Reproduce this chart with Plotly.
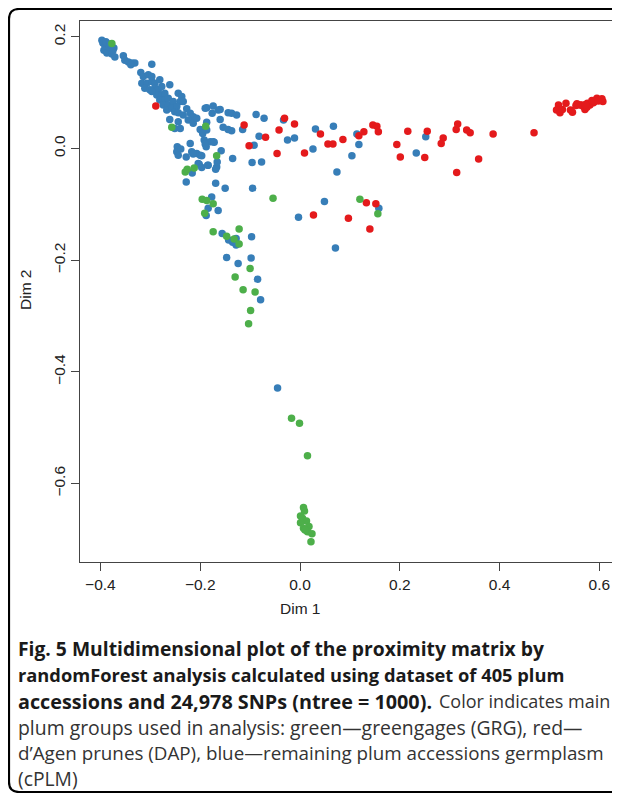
import plotly.graph_objects as go

# ---- data ----
blue_x = [-0.397, -0.391, -0.385, -0.379, -0.393, -0.387, -0.377, -0.383, -0.373, -0.395, -0.389, -0.381, -0.375,
          -0.371, -0.354, -0.351, -0.344, -0.337, -0.331, -0.339, -0.297, -0.319, -0.314, -0.304, -0.297,
          -0.317, -0.307, -0.297, -0.291, -0.281, -0.311, -0.301, -0.291, -0.284, -0.277, -0.261, -0.287,
          -0.277, -0.271, -0.281, -0.271, -0.264, -0.274, -0.264, -0.254, -0.244, -0.237, -0.240, -0.234,
          -0.267, -0.257, -0.247, -0.251, -0.297, -0.227, -0.220, -0.244, -0.261, -0.244, -0.234, -0.214,
          -0.224, -0.214, -0.207, -0.190, -0.251, -0.240, -0.200, -0.187, -0.174, -0.164, -0.144, -0.137,
          -0.176, -0.088, -0.160, -0.154, -0.144, -0.137, -0.195, -0.192, -0.188, -0.174, -0.220, -0.217,
          -0.207, -0.200, -0.246, -0.247, -0.244, -0.228, -0.204, -0.184, -0.167, -0.135, -0.096, -0.160,
          -0.127, -0.072, -0.033, -0.187, -0.115, -0.187, -0.082, -0.025, -0.011, -0.092, 0.031, 0.067,
          0.114, 0.118, 0.026, 0.104, -0.180, -0.190, -0.172, -0.158, -0.239, -0.214, -0.197, -0.166,
          -0.202, -0.197, -0.185, -0.169, -0.216, -0.077, 0.074, -0.228, -0.169, -0.150, -0.095, 0.049,
          0.158, -0.003, 0.071, -0.177, -0.184, -0.164, -0.188, -0.156, -0.143, -0.135, -0.128, -0.128,
          -0.097, -0.147, -0.124, -0.098, -0.085, -0.079, -0.045, 0.252, 0.233]
blue_y = [0.194, 0.185, 0.180, 0.176, 0.176, 0.171, 0.169, 0.182, 0.180, 0.189, 0.191, 0.187, 0.175,
          0.164, 0.166, 0.158, 0.155, 0.153, 0.153, 0.150, 0.151, 0.136, 0.129, 0.132, 0.129,
          0.117, 0.117, 0.120, 0.117, 0.123, 0.108, 0.105, 0.108, 0.105, 0.111, 0.114, 0.096,
          0.096, 0.099, 0.087, 0.087, 0.090, 0.078, 0.078, 0.084, 0.099, 0.093, 0.084, 0.084,
          0.069, 0.072, 0.075, 0.066, 0.102, 0.071, 0.063, 0.064, 0.052, 0.048, 0.060, 0.057,
          0.051, 0.045, 0.054, 0.072, 0.036, 0.036, 0.034, 0.073, 0.076, 0.069, 0.064, 0.063,
          0.063, 0.061, 0.052, 0.038, 0.034, 0.032, 0.027, 0.015, 0.003, 0.012, 0.009, -0.006,
          -0.009, -0.012, 0.003, -0.006, -0.012, -0.015, -0.027, -0.030, -0.033, -0.018, -0.025, 0.070,
          0.060, 0.054, 0.051, 0.047, 0.034, 0.033, 0.022, 0.015, 0.019, 0.006, 0.035, 0.040,
          0.026, 0.007, -0.001, -0.013, 0.012, 0.008, 0.011, -0.004, -0.001, -0.010, -0.013, -0.024,
          -0.028, -0.034, -0.030, -0.037, -0.044, -0.024, -0.042, -0.060, -0.062, -0.071, -0.071, -0.095,
          -0.107, -0.123, -0.178, -0.087, -0.107, -0.111, -0.120, -0.152, -0.164, -0.168, -0.173, -0.161,
          -0.158, -0.195, -0.206, -0.196, -0.234, -0.271, -0.429, 0.021, -0.008]

red_x = [-0.289, -0.112, -0.102, -0.031, -0.011, -0.069, -0.042, 0.041, 0.056, 0.066, 0.086, 0.118,
         0.128, 0.146, 0.154, 0.157, 0.194, 0.201, 0.009, -0.046, 0.133, 0.152, 0.027, 0.097, 0.140,
         0.216, 0.255, 0.250, 0.287, 0.283, 0.313, 0.316, 0.334, 0.341, 0.387, 0.358, 0.314, 0.469,
         0.518, 0.514, 0.521, 0.526, 0.533, 0.542, 0.546, 0.555, 0.561, 0.568, 0.571, 0.576, 0.581,
         0.588, 0.595, 0.601, 0.607, 0.575, 0.564, 0.585, 0.590, 0.598, 0.572, 0.553, 0.605]
red_y = [0.076, 0.042, 0.005, 0.054, 0.044, 0.020, 0.033, 0.026, 0.008, 0.008, 0.016, 0.023,
         0.030, 0.042, 0.040, 0.030, 0.007, -0.015, -0.008, -0.009, -0.097, -0.099, -0.119, -0.125, -0.144,
         0.031, 0.031, -0.016, 0.019, 0.009, 0.034, 0.044, 0.033, 0.028, 0.026, -0.019, -0.043, 0.028,
         0.078, 0.069, 0.064, 0.070, 0.081, 0.069, 0.065, 0.080, 0.078, 0.075, 0.070, 0.081, 0.078,
         0.082, 0.090, 0.087, 0.084, 0.074, 0.078, 0.086, 0.084, 0.085, 0.079, 0.077, 0.089]

green_x = [-0.377, -0.189, -0.257, -0.167, -0.230, -0.226, -0.212, -0.054, 0.120, 0.156, -0.196, -0.187,
           -0.174, -0.191, -0.174, -0.147, -0.122, -0.132, -0.122, -0.100, -0.130, -0.114, -0.090, -0.099,
           -0.103, -0.017, -0.001, 0.015, 0.007, 0.009, 0.001, 0.005, 0.013, 0.001, 0.007, 0.018, 0.015,
           0.024, 0.022, 0.010]
green_y = [0.188, 0.040, 0.038, -0.013, -0.042, -0.037, -0.035, -0.089, -0.091, -0.117, -0.091, -0.093,
           -0.099, -0.116, -0.149, -0.157, -0.144, -0.162, -0.171, -0.215, -0.230, -0.253, -0.257, -0.290,
           -0.314, -0.483, -0.492, -0.550, -0.643, -0.649, -0.658, -0.662, -0.667, -0.670, -0.680, -0.677,
           -0.686, -0.690, -0.704, -0.683]

x_ticks = [-0.4, -0.2, 0.0, 0.2, 0.4, 0.6]
x_labels = ["\u22120.4", "\u22120.2", "0.0", "0.2", "0.4", "0.6"]
y_ticks = [-0.6, -0.4, -0.2, 0.0, 0.2]
y_labels = ["\u22120.6", "\u22120.4", "\u22120.2", "0.0", "0.2"]

# caption pieces: (text, bold?)
caption_pieces = [
    ("Fig. 5 Multidimensional plot of the proximity matrix by", True),
    ("randomForest analysis calculated using dataset of 405 plum", True),
    ("accessions and 24,978 SNPs (ntree = 1000).", True),
    ("Color indicates main", False),
    ("plum groups used in analysis: green\u2014greengages (GRG), red\u2014", False),
    ("d\u2019Agen prunes (DAP), blue\u2014remaining plum accessions germplasm", False),
    ("(cPLM)", False),
]

# ---- layout geometry ----
# The page body has an 8px margin; the figure is kept small enough that the
# page never overflows, and every reference-pixel position is shifted by OFF.
OFF = 8
W, H = 620 - 2 * OFF, 801 - 2 * OFF
BOX_L, BOX_T, BOX_B, BOX_R = 80, 21, 562, 612   # plot box in reference pixels
ML, MT = BOX_L - OFF, BOX_T - OFF
MB = H - (BOX_B - OFF)
MR = W - (BOX_R - OFF)
PW, PH = W - ML - MR, H - MT - MB


def px(xp):
    return (xp - OFF - ML) / PW


def py(yp):
    return (H - MB - (yp - OFF)) / PH


COL_BLUE = "#377EB8"
COL_RED = "#E41A1C"
COL_GREEN = "#4DAF4A"
MS = 7.5

fig = go.Figure()
fig.add_trace(go.Scatter(x=blue_x, y=blue_y, mode="markers",
                         marker=dict(color=COL_BLUE, size=MS, line=dict(width=0)), showlegend=False))
fig.add_trace(go.Scatter(x=red_x, y=red_y, mode="markers",
                         marker=dict(color=COL_RED, size=MS, line=dict(width=0)), showlegend=False))
fig.add_trace(go.Scatter(x=green_x, y=green_y, mode="markers",
                         marker=dict(color=COL_GREEN, size=MS, line=dict(width=0)), showlegend=False))

tick_font = dict(family="Liberation Sans, Arial, sans-serif", size=15.5, color="#222")

# axis scale: 499 px per x unit (0.0 at x=300), 558.5 px per y unit (0.0 at y=148.5)
fig.update_xaxes(range=[(BOX_L - 300) / 499, (BOX_R - 300) / 499], tickvals=x_ticks, ticktext=x_labels,
                 ticks="outside", ticklen=8, tickwidth=1, tickcolor="#444",
                 showline=True, linecolor="#444", linewidth=1, mirror="allticks",
                 showgrid=False, zeroline=False, tickfont=tick_font)
fig.update_yaxes(range=[(148.5 - BOX_B) / 558.5, (148.5 - BOX_T) / 558.5], tickvals=y_ticks, ticktext=y_labels,
                 ticks="outside", ticklen=8, tickwidth=1, tickcolor="#444", tickangle=-90,
                 showline=True, linecolor="#444", linewidth=1, mirror=False,
                 showgrid=False, zeroline=False, tickfont=tick_font)
fig.update_xaxes(mirror=True)

axis_font = dict(family="Liberation Sans, Arial, sans-serif", size=15.5, color="#222")
annotations = [
    dict(text="Dim 1", xref="paper", yref="paper", x=px(300), y=py(608), xanchor="center", yanchor="middle",
         showarrow=False, font=axis_font),
    dict(text="Dim 2", xref="paper", yref="paper", x=px(25), y=py(290), xanchor="center", yanchor="middle",
         textangle=-90, showarrow=False, font=axis_font),
]
# placement of each caption piece: (left x, centre y, font size)
cap_pos = [(16, 648, 19.3), (16, 674.5, 18.3), (16, 701, 19.8), (437, 701, 18.0),
           (16, 727, 19.4), (16, 753, 18.8), (16, 778, 19.3)]
for (txt, bold), (xx, yy, fs) in zip(caption_pieces, cap_pos):
    annotations.append(dict(text=f"<b>{txt}</b>" if bold else txt, xref="paper", yref="paper",
                            x=px(xx), y=py(yy), xanchor="left", yanchor="middle", showarrow=False,
                            align="left",
                            font=dict(family="Open Sans, sans-serif", size=fs,
                                      color="#1a1a1a" if bold else "#333333")))

# rounded outer frame (left/top/bottom visible); ends at the figure edge
L, T, B, R, r = 9, 9, 792, 612, 10
frame_path = (f"M {px(R)},{py(T)} L {px(L + r)},{py(T)} Q {px(L)},{py(T)} {px(L)},{py(T + r)} "
              f"L {px(L)},{py(B - r)} Q {px(L)},{py(B)} {px(L + r)},{py(B)} L {px(R)},{py(B)}")

fig.update_layout(
    width=W, height=H,
    margin=dict(l=ML, r=MR, t=MT, b=MB, autoexpand=False),
    paper_bgcolor="white", plot_bgcolor="white",
    annotations=annotations,
    shapes=[dict(type="path", path=frame_path, xref="paper", yref="paper",
                 line=dict(color="black", width=2.2))],
)

fig.write_html("out.html")
